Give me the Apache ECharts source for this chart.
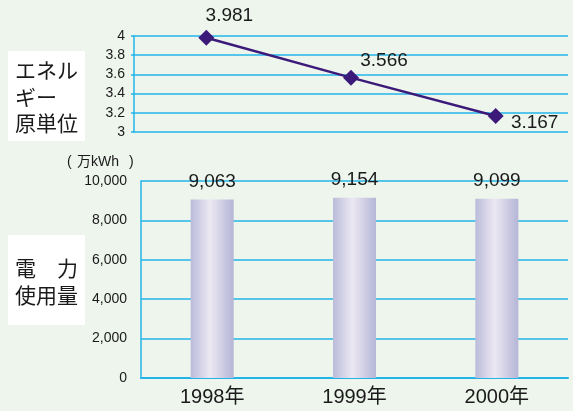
<!DOCTYPE html>
<html><head><meta charset="utf-8">
<script src="https://cdn.jsdelivr.net/npm/echarts@6/dist/echarts.min.js"></script>
<style>html,body{margin:0;padding:0;background:#eef5ed;}#c{width:573px;height:411px;}</style>
</head><body><div id="c"></div>
<script>
var categories = ['1998年', '1999年', '2000年'];
var intensity = [3.981, 3.566, 3.167];
var usage = [9063, 9154, 9099];
var intensityTicks = { min: 3, max: 4, interval: 0.2 };
var usageTicks = { min: 0, max: 10000, interval: 2000 };
var labelOffsets = [[23, -22], [33, -17], [39, 7]];

var FONT = '"Liberation Sans", "Noto Sans CJK JP", sans-serif';
var JP = '"Noto Sans CJK JP", "Liberation Sans", sans-serif';
var BLUE = '#22b4e8';
function comma(v) { return String(v).replace(/\B(?=(\d{3})+(?!\d))/g, ','); }

var chart = echarts.init(document.getElementById('c'), null, { renderer: 'canvas' });
chart.setOption({
  backgroundColor: '#eef5ed',
  animation: false,
  grid: [
    { left: 134, right: 5, top: 36, height: 96 },
    { left: 141, right: 5, top: 181, height: 197 }
  ],
  xAxis: [
    { type: 'category', gridIndex: 0, data: categories, show: false },
    { type: 'category', gridIndex: 1, data: categories,
      axisLine: { lineStyle: { color: BLUE, width: 2 } },
      axisTick: { inside: true, length: 4, lineStyle: { color: BLUE, width: 1.5 } },
      axisLabel: { fontSize: 20, color: '#1a1a1a', fontFamily: FONT, margin: 9 } }
  ],
  yAxis: [
    { type: 'value', gridIndex: 0, min: intensityTicks.min, max: intensityTicks.max, interval: intensityTicks.interval,
      axisLine: { show: true, lineStyle: { color: BLUE, width: 1.5 } },
      axisTick: { show: true, length: 3, lineStyle: { color: BLUE, width: 1.5 } },
      splitLine: { lineStyle: { color: BLUE, width: 1.5 } },
      axisLabel: { fontSize: 14, color: '#1a1a1a', fontFamily: FONT, margin: 9,
        formatter: function (v) { return String(+v.toFixed(1)); } } },
    { type: 'value', gridIndex: 1, min: usageTicks.min, max: usageTicks.max, interval: usageTicks.interval,
      axisLine: { show: true, lineStyle: { color: BLUE, width: 1.5 } },
      axisTick: { show: false },
      splitLine: { lineStyle: { color: BLUE, width: 1.5 } },
      axisLabel: { fontSize: 14, color: '#1a1a1a', fontFamily: FONT, margin: 14,
        formatter: function (v) { return comma(v); } } }
  ],
  series: [
    { type: 'line', xAxisIndex: 0, yAxisIndex: 0,
      data: intensity.map(function (v, i) {
        return { value: v, label: { offset: labelOffsets[i] } };
      }),
      symbol: 'diamond', symbolSize: 16,
      lineStyle: { color: '#3c1a7a', width: 2.5 },
      itemStyle: { color: '#3c1a7a' },
      label: { show: true, position: 'inside', fontSize: 19, color: '#1a1a1a', fontFamily: FONT,
        formatter: function (p) { return p.value.toFixed(3); } },
      z: 5 },
    { type: 'bar', xAxisIndex: 1, yAxisIndex: 1, data: usage, barWidth: 43,
      itemStyle: { color: new echarts.graphic.LinearGradient(0, 0, 1, 0, [
        { offset: 0, color: '#bbbbdb' }, { offset: 0.45, color: '#ece8f2' }, { offset: 1, color: '#b5b5d7' }]) },
      label: { show: true, position: 'top', distance: 8, fontSize: 19, color: '#1a1a1a', fontFamily: FONT,
        formatter: function (p) { return comma(p.value); } } }
  ],
  graphic: [
    { type: 'rect', shape: { x: 8, y: 51, width: 77, height: 90 }, style: { fill: '#ffffff' } },
    { type: 'text', x: 15, y: 57, style: { text: 'エネル\nギー\n原単位', font: '21px ' + JP, fill: '#1a1a1a', lineHeight: 26.5 } },
    { type: 'rect', shape: { x: 8, y: 235, width: 77, height: 90 }, style: { fill: '#ffffff' } },
    { type: 'text', x: 15, y: 255, style: { text: '電　力\n使用量', font: '21px ' + JP, fill: '#1a1a1a', lineHeight: 27 } },
    { type: 'text', x: 67, y: 162, style: { text: '(', font: '14px ' + FONT, fill: '#1a1a1a', verticalAlign: 'middle' } },
    { type: 'text', x: 77, y: 162, style: { text: '万kWh', font: '14px ' + FONT, fill: '#1a1a1a', verticalAlign: 'middle' } },
    { type: 'text', x: 129, y: 162, style: { text: ')', font: '14px ' + FONT, fill: '#1a1a1a', verticalAlign: 'middle' } }
  ]
});
</script></body></html>
